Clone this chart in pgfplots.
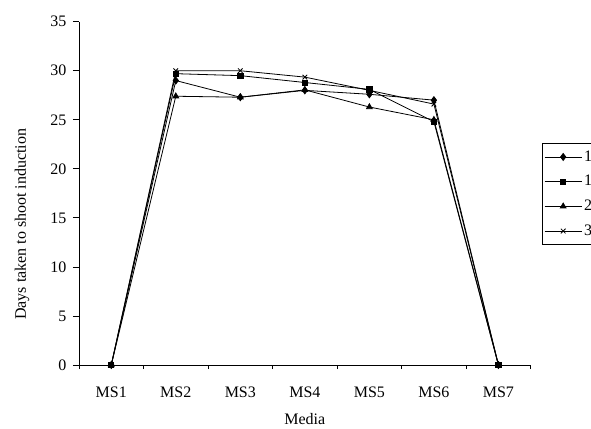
\documentclass[border=0pt]{standalone}
\usepackage{pgfplots}
\pgfplotsset{compat=1.18}
\usepackage{fontspec}
\setmainfont{Liberation Serif}
\begin{document}
\fontsize{16}{19}\selectfont
\begin{tikzpicture}
\begin{axis}[
  anchor=south west,
  scale only axis, width=451.7pt, height=343.3pt,
  xmin=0.5, xmax=7.5, ymin=0, ymax=35,
  axis x line*=bottom, axis y line*=left,
  axis line style={black, line width=0.8pt},
  every tick/.style={black, line width=0.8pt},
  xtick={1,2,3,4,5,6,7},
  xticklabels={MS1,MS2,MS3,MS4,MS5,MS6,MS7},
  major x tick style={draw=none},
  minor xtick={0.5,1.5,2.5,3.5,4.5,5.5,6.5,7.5},
  ytick={0,5,10,15,20,25,30,35},
  tick align=outside,
  major tick length=6pt, minor tick length=4pt,
  /pgf/number format/assume math mode=true,
  tick label style={font=\fontsize{16}{19}\selectfont},
  xticklabel style={anchor=center, yshift=-21pt},
  yticklabel style={xshift=-1pt},
  xlabel={Media},
  xlabel style={at={(axis description cs:0.5,-0.156)}, anchor=center},
  ylabel={Days taken to shoot induction},
  ylabel style={at={(axis description cs:-0.126,0.41)}, anchor=center},
  legend style={at={(rel axis cs:1.025,0.647)}, anchor=north west,
    draw=black, line width=0.6pt, font=\fontsize{16}{19}\selectfont,
    row sep=7.2pt, inner xsep=2pt, inner ysep=5pt},
  legend image code/.code={%
    \path (0pt,0pt) -- (37pt,0pt);
    \draw[mark repeat=2,mark phase=2,#1] plot coordinates {(4pt,0pt) (18.5pt,0pt) (33pt,0pt)};},
  legend cell align=left,
  every axis plot/.append style={black, line width=0.8pt},
]
\addplot[mark=diamond*, mark size=3.5pt] coordinates {(1,0) (2,29.0) (3,27.3) (4,28.0) (5,27.6) (6,27.0) (7,0)};
\addplot[mark=square*, mark size=2.6pt] coordinates {(1,0) (2,29.7) (3,29.5) (4,28.8) (5,28.1) (6,24.8) (7,0)};
\addplot[mark=triangle*, mark size=3.3pt] coordinates {(1,0) (2,27.4) (3,27.3) (4,28.05) (5,26.3) (6,25.0) (7,0)};
\addplot[mark=x, mark size=3.3pt] coordinates {(1,0) (2,30.0) (3,30.0) (4,29.35) (5,28.0) (6,26.6) (7,0)};
\legend{12 days,18 days,24 days,30 days}
\end{axis}
\pgfresetboundingbox
\path[use as bounding box] (current axis.south west) ++(-79pt,-63pt) rectangle ++(591pt,428pt);
\end{tikzpicture}
\end{document}
